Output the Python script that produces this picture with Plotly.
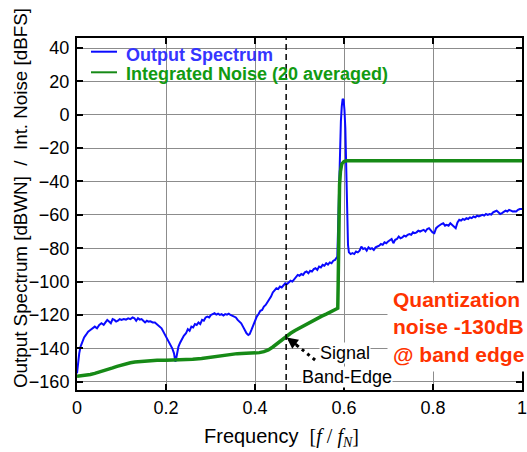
import plotly.graph_objects as go

# ---------------- data ----------------
spec_freq = [0.000, 0.002, 0.005, 0.008, 0.012, 0.016, 0.020, 0.025, 0.030, 0.035, 0.040, 0.045,
             0.050, 0.055, 0.060, 0.064, 0.068, 0.072, 0.076, 0.080, 0.084, 0.088, 0.092, 0.096,
             0.100, 0.105, 0.110, 0.115, 0.120, 0.125, 0.129, 0.133, 0.137, 0.141, 0.145, 0.149,
             0.153, 0.157, 0.161, 0.165, 0.170, 0.175, 0.180, 0.185, 0.190, 0.194, 0.198, 0.202,
             0.206, 0.210, 0.214, 0.218, 0.221, 0.223, 0.225, 0.228, 0.232, 0.236, 0.240, 0.245,
             0.249, 0.253, 0.257, 0.261, 0.265, 0.269, 0.273, 0.277, 0.281, 0.285, 0.289, 0.293,
             0.297, 0.301, 0.305, 0.309, 0.313, 0.317, 0.321, 0.325, 0.329, 0.333, 0.337, 0.341,
             0.345, 0.349, 0.353, 0.357, 0.361, 0.365, 0.369, 0.373, 0.377, 0.381, 0.385, 0.388,
             0.392, 0.396, 0.400, 0.404, 0.408, 0.412, 0.416, 0.420, 0.424, 0.428, 0.432, 0.436,
             0.440, 0.444, 0.448, 0.452, 0.456, 0.460, 0.464, 0.468, 0.472, 0.476, 0.480, 0.484,
             0.488, 0.492, 0.496, 0.500, 0.504, 0.508, 0.512, 0.516, 0.520, 0.524, 0.528, 0.532,
             0.536, 0.540, 0.544, 0.548, 0.552, 0.556, 0.560, 0.564, 0.568, 0.572, 0.576, 0.580,
             0.583, 0.585, 0.587, 0.589, 0.591, 0.593, 0.595, 0.597, 0.599, 0.601, 0.603, 0.605,
             0.607, 0.609, 0.611, 0.615, 0.619, 0.623, 0.627, 0.631, 0.635, 0.639, 0.643, 0.647,
             0.651, 0.655, 0.659, 0.663, 0.667, 0.671, 0.675, 0.679, 0.683, 0.687, 0.691, 0.695,
             0.699, 0.703, 0.707, 0.711, 0.715, 0.719, 0.723, 0.727, 0.731, 0.735, 0.739, 0.743,
             0.747, 0.751, 0.755, 0.759, 0.763, 0.767, 0.771, 0.775, 0.779, 0.783, 0.787, 0.791,
             0.795, 0.799, 0.803, 0.807, 0.811, 0.815, 0.819, 0.823, 0.827, 0.831, 0.835, 0.839,
             0.843, 0.847, 0.851, 0.855, 0.859, 0.863, 0.867, 0.871, 0.875, 0.879, 0.883, 0.887,
             0.891, 0.895, 0.899, 0.903, 0.907, 0.911, 0.915, 0.919, 0.923, 0.927, 0.931, 0.935,
             0.939, 0.943, 0.947, 0.951, 0.955, 0.959, 0.963, 0.967, 0.971, 0.975, 0.979, 0.983,
             0.987, 0.991, 0.995, 1.000]
spec_db = [-155, -149, -143, -139, -136, -133.5, -132, -130, -129, -128, -127, -128,
           -126, -125, -126, -124.5, -123, -124, -125, -122.5, -123, -124, -123.5, -122.5,
           -123, -122.5, -122.8, -122, -122.5, -121.5, -122, -123.5, -122, -122.8, -122.5, -123.5,
           -124.5, -123.5, -124, -123.8, -124.5, -124.5, -125.5, -126.5, -128, -130, -132, -134,
           -136, -137.5, -140, -143, -148, -146, -142, -139, -136.5, -134.5, -132.5, -131,
           -128.5, -129.5, -127, -127.5, -125.5, -126, -124.5, -125.5, -123, -123.5, -121.5, -121,
           -121.5, -120, -119.5, -119, -119.8, -119.3, -120, -119.5, -120.3, -119.5, -119.8, -119.2,
           -120, -120.5, -121, -121.5, -123, -124, -125, -127, -129, -131, -132, -131.5,
           -129, -126, -123, -121, -119.5, -117.5, -117, -115, -114, -112.5, -111, -109,
           -106.5, -105.5, -104, -104.5, -103, -103.5, -102, -101, -101.5, -100.5, -99.5, -100,
           -98.5, -97, -96, -96.5, -95.5, -96, -94.5, -94, -95, -93.5, -94, -92.5,
           -92, -93, -91, -91.5, -90, -90.5, -89, -89.8, -88.5, -89, -87.5, -87,
           -86, -85, -65, -40, -18, -4, 5, 9.5, 9, 3, -8, -30,
           -60, -78, -82.5, -83.5, -83, -83.5, -82, -82.5, -81.5, -79, -80.5, -80,
           -81.5, -79.5, -80.5, -80, -81, -79.5, -79, -78.5, -77.5, -78, -76.5, -77,
           -76, -75.5, -74.5, -77, -75, -74.5, -73, -74, -73.5, -72.5, -73, -72,
           -71.5, -72, -70.5, -71, -70.5, -69.5, -70, -69.5, -69, -70, -68.5, -68,
           -69.5, -70.5, -71, -68, -67, -66, -65.5, -65, -66.5, -66, -66.5, -65,
           -66, -67, -68, -64.5, -63, -63.5, -62.5, -63, -62, -62.5, -61.5, -62,
           -61, -61.5, -60.5, -61, -60.5, -60, -60.5, -59.5, -60, -59.5, -59.8, -58.5,
           -58, -57.5, -58.5, -59.5, -59, -58, -57.5, -58, -57, -57.5, -58, -57.8,
           -58, -57, -56.5, -56.5]

noise_freq = [0.000, 0.010, 0.020, 0.030, 0.040, 0.050, 0.060, 0.070, 0.080, 0.090, 0.100, 0.110,
              0.120, 0.130, 0.140, 0.150, 0.160, 0.180, 0.200, 0.220, 0.240, 0.260, 0.280, 0.300,
              0.320, 0.340, 0.360, 0.380, 0.400, 0.410, 0.420, 0.430, 0.440, 0.450, 0.460, 0.470,
              0.480, 0.490, 0.500, 0.510, 0.520, 0.530, 0.540, 0.550, 0.560, 0.570, 0.580, 0.586,
              0.587, 0.588, 0.589, 0.590, 0.592, 0.595, 0.600, 0.606, 1.000]
noise_db = [-156.8, -156.5, -156.2, -155.7, -155, -154.3, -153.5, -152.6, -151.7, -150.8, -150, -149.3,
            -148.7, -148.2, -147.9, -147.6, -147.4, -147.2, -147.1, -147, -146.9, -146.6, -146.1, -145.4,
            -144.6, -143.8, -143.2, -143, -142.8, -142.6, -142, -141, -139.2, -137, -135, -133,
            -131, -129.3, -127.8, -126.4, -125, -123.5, -122, -120.7, -119.5, -118.3, -117, -116,
            -100, -72, -52, -42, -34, -29.5, -28, -27.6, -27.6]

x_ticks = [0, 0.2, 0.4, 0.6, 0.8, 1]
x_tick_text = ["0", "0.2", "0.4", "0.6", "0.8", "1"]
y_ticks = [40, 20, 0, -20, -40, -60, -80, -100, -120, -140, -160]

band_edge = 0.47
arrow_tail = (0.535, -147)
arrow_base = (0.493, -138)
arrow_tip = (0.471, -133.5)

series_names = ["Output Spectrum", "Integrated Noise (20 averaged)"]

# ---------------- figure ----------------
BLUE = "#0a0aff"
GREEN = "#168a16"
FONT = "Liberation Sans, Arial, sans-serif"

W, H = 527, 452
ML, MR, MT, MB = 77, 5, 38, 62
PW, PH = W - ML - MR, H - MT - MB


def px(x):
    return (x - ML) / PW


def py(y):
    return (H - MB - y) / PH


fig = go.Figure()
fig.add_trace(go.Scatter(x=spec_freq, y=spec_db, mode="lines", name=series_names[0],
                         line=dict(color=BLUE, width=2), showlegend=False))
fig.add_trace(go.Scatter(x=noise_freq, y=noise_db, mode="lines", name=series_names[1],
                         line=dict(color=GREEN, width=3.5), showlegend=False))
# dotted arrow shaft
fig.add_trace(go.Scatter(x=[arrow_tail[0], arrow_base[0]], y=[arrow_tail[1], arrow_base[1]],
                         mode="lines", line=dict(color="black", width=3, dash="3px,4px"),
                         showlegend=False, hoverinfo="skip"))

axis_common = dict(showgrid=True, gridcolor="#8c8c8c", gridwidth=1, zeroline=False,
                   showline=True, linecolor="black", linewidth=2, mirror="ticks",
                   ticks="inside", ticklen=6, tickwidth=1.5, tickcolor="black",
                   automargin=False, ticklabeloverflow="allow",
                   tickfont=dict(family=FONT, size=18, color="black"))

fig.update_layout(
    width=W, height=H,
    margin=dict(l=ML, r=MR, t=MT, b=MB),
    paper_bgcolor="white", plot_bgcolor="white",
    xaxis=dict(range=[0, 1], tickvals=x_ticks, ticktext=x_tick_text, **axis_common),
    yaxis=dict(range=[-165, 46], tickvals=y_ticks, ticklabelstandoff=2, **axis_common),
    showlegend=False,
)

shapes = [
    dict(type="line", xref="x", yref="paper", x0=band_edge, x1=band_edge, y0=0, y1=1,
         line=dict(color="black", width=1.5, dash="6px,4px")),
    # manual legend samples
    dict(type="line", xref="paper", yref="paper", x0=px(91), x1=px(117), y0=py(51.7), y1=py(51.7),
         line=dict(color=BLUE, width=2)),
    dict(type="line", xref="paper", yref="paper", x0=px(91), x1=px(117), y0=py(72.3), y1=py(72.3),
         line=dict(color=GREEN, width=2)),
]
fig.update_layout(shapes=shapes)

annotations = [
    dict(text="<b>" + series_names[0] + "</b>", xref="paper", yref="paper", x=px(124), y=py(55),
         xanchor="left", yanchor="middle", showarrow=False,
         font=dict(family=FONT, size=18, color="#3535ff")),
    dict(text="<b>" + series_names[1] + "</b>", xref="paper", yref="paper", x=px(124), y=py(74.5),
         xanchor="left", yanchor="middle", showarrow=False,
         font=dict(family=FONT, size=18, color="#129a12")),
    dict(text="<b>Quantization<br>noise -130dB<br>@ band edge</b>", xref="paper", yref="paper",
         x=px(387), y=py(326.5), xanchor="left", yanchor="middle", align="left", showarrow=False,
         bgcolor="white", borderpad=5,
         font=dict(family=FONT, size=21, color="#ff3300")),
    dict(text="Signal", xref="paper", yref="paper", x=px(344.5), y=py(352.5),
         xanchor="center", yanchor="middle", showarrow=False, bgcolor="white", borderpad=0,
         font=dict(family=FONT, size=18, color="black")),
    dict(text="Band-Edge", xref="paper", yref="paper", x=px(347), y=py(377),
         xanchor="center", yanchor="middle", showarrow=False, bgcolor="white", borderpad=0,
         font=dict(family=FONT, size=18, color="black")),
    # arrow head
    dict(text="", x=arrow_tip[0], y=arrow_tip[1], xref="x", yref="y", showarrow=True,
         ax=12, ay=9, arrowhead=2, arrowsize=0.9, arrowwidth=2.5, arrowcolor="black", standoff=0),
    # axis titles
    dict(text="Output Spectrum [dBWN]  /  Int. Noise [dBFS]", xref="paper", yref="paper",
         x=px(20), y=py(198), xanchor="center", yanchor="middle", textangle=-90, showarrow=False,
         font=dict(family=FONT, size=18.8, color="black")),
    dict(text="Frequency  <span style=\"font-family:'Liberation Serif', 'Times New Roman', serif\">"
              "[<i>f</i> / <i>f</i><sub><i>N</i></sub>]</span>",
         xref="paper", yref="paper", x=px(281.7), y=py(438), xanchor="center", yanchor="middle",
         showarrow=False, font=dict(family=FONT, size=20, color="black")),
]
fig.update_layout(annotations=annotations)

fig.write_html("out.html")
